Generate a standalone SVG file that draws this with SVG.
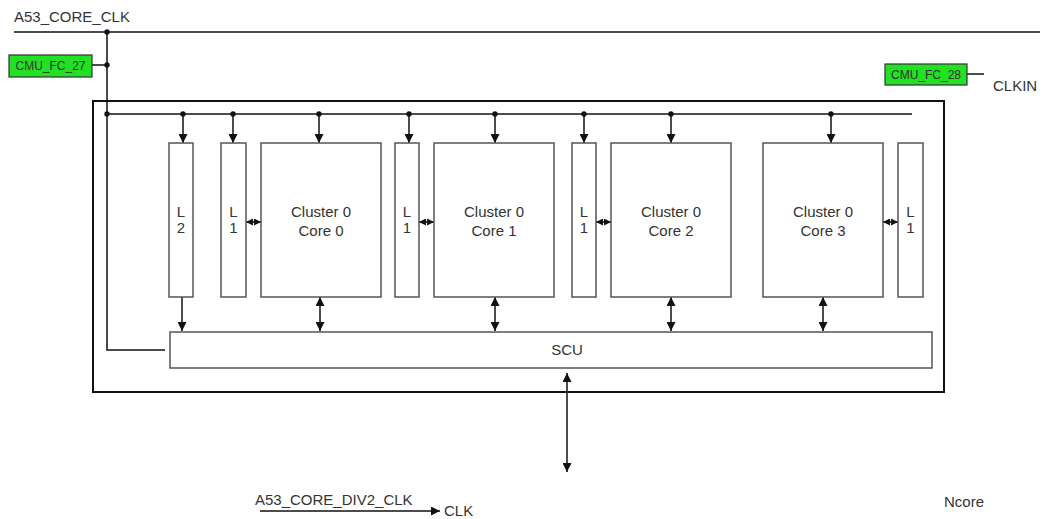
<svg xmlns="http://www.w3.org/2000/svg" width="1043" height="519" viewBox="0 0 1043 519">
<defs>
<style>
.t{font-family:"Liberation Sans",Arial,sans-serif;fill:#333;font-size:15px;}
.box{fill:#fff;stroke:#555;stroke-width:1.5;}
.ln{stroke:#111;stroke-width:1.5;fill:none;}
.g{fill:#22e022;stroke:#333;stroke-width:1.2;}
.dot{fill:#111;}
</style>
<marker id="ah" viewBox="0 0 10 10" refX="10" refY="5" markerWidth="9" markerHeight="9" markerUnits="userSpaceOnUse" orient="auto-start-reverse"><path d="M0,0 L10,5 L0,10 Z" fill="#111"/></marker>
<marker id="sa" viewBox="0 0 10 10" refX="10" refY="5" markerWidth="7" markerHeight="7" markerUnits="userSpaceOnUse" orient="auto-start-reverse"><path d="M0,0 L10,5 L0,10 Z" fill="#111"/></marker>
</defs>
<rect width="1043" height="519" fill="#fff"/>

<g id="outer"><rect x="93" y="101" width="851" height="291" fill="none" stroke="#111" stroke-width="2"/></g>

<g id="connectors">
<line class="ln" x1="14" y1="32" x2="1040" y2="32"/>
<polyline class="ln" points="107,32 107,350 165,350"/>
<line class="ln" x1="92" y1="65" x2="107" y2="65"/>
<line class="ln" x1="967" y1="74" x2="984" y2="74"/>
<line class="ln" x1="107" y1="114" x2="912" y2="114"/>
<circle class="dot" cx="107" cy="32" r="2.7"/>
<circle class="dot" cx="107" cy="65" r="2.7"/>
<circle class="dot" cx="107" cy="114" r="2.7"/>
<g marker-end="url(#ah)">
<line class="ln" x1="183" y1="114" x2="183" y2="143"/>
<line class="ln" x1="233" y1="114" x2="233" y2="143"/>
<line class="ln" x1="319" y1="114" x2="319" y2="143"/>
<line class="ln" x1="409" y1="114" x2="409" y2="143"/>
<line class="ln" x1="495" y1="114" x2="495" y2="143"/>
<line class="ln" x1="584" y1="114" x2="584" y2="143"/>
<line class="ln" x1="671" y1="114" x2="671" y2="143"/>
<line class="ln" x1="831" y1="114" x2="831" y2="143"/>
<line class="ln" x1="182" y1="297" x2="182" y2="331"/>
</g>
<circle class="dot" cx="183" cy="114" r="2.7"/>
<circle class="dot" cx="233" cy="114" r="2.7"/>
<circle class="dot" cx="319" cy="114" r="2.7"/>
<circle class="dot" cx="409" cy="114" r="2.7"/>
<circle class="dot" cx="495" cy="114" r="2.7"/>
<circle class="dot" cx="584" cy="114" r="2.7"/>
<circle class="dot" cx="671" cy="114" r="2.7"/>
<circle class="dot" cx="831" cy="114" r="2.7"/>
<g marker-start="url(#ah)" marker-end="url(#ah)">
<line class="ln" x1="320" y1="297" x2="320" y2="331"/>
<line class="ln" x1="495" y1="297" x2="495" y2="331"/>
<line class="ln" x1="671" y1="297" x2="671" y2="331"/>
<line class="ln" x1="823" y1="297" x2="823" y2="331"/>
<line class="ln" x1="567" y1="373" x2="567" y2="472"/>
</g>
<g marker-start="url(#sa)" marker-end="url(#sa)">
<line class="ln" x1="246" y1="222" x2="261" y2="222"/>
<line class="ln" x1="419" y1="222" x2="434" y2="222"/>
<line class="ln" x1="596" y1="222" x2="611" y2="222"/>
<line class="ln" x1="883" y1="222" x2="898" y2="222"/>
</g>
<line class="ln" x1="260" y1="511" x2="440" y2="511" marker-end="url(#ah)"/>
</g>

<g id="clk-label"><text class="t" x="14" y="22">A53_CORE_CLK</text></g>
<g id="cmu27"><rect class="g" x="9" y="55" width="83" height="22"/><text class="t" x="50.5" y="70" style="font-size:12px" text-anchor="middle" fill="#222">CMU_FC_27</text></g>
<g id="cmu28"><rect class="g" x="885" y="64" width="82" height="21"/><text class="t" x="926" y="78.5" style="font-size:12px" text-anchor="middle">CMU_FC_28</text></g>
<g id="clkin"><text class="t" x="993" y="91">CLKIN</text></g>

<g id="l2"><rect class="box" x="169" y="143" width="24" height="154"/><text class="t" x="181" y="217" text-anchor="middle">L</text><text class="t" x="181" y="233" text-anchor="middle">2</text></g>
<g id="l1a"><rect class="box" x="221" y="143" width="25" height="154"/><text class="t" x="233.5" y="217" text-anchor="middle">L</text><text class="t" x="233.5" y="233" text-anchor="middle">1</text></g>
<g id="core0"><rect class="box" x="261" y="143" width="120" height="154"/><text class="t" x="321" y="217" text-anchor="middle">Cluster 0</text><text class="t" x="321" y="236" text-anchor="middle">Core 0</text></g>
<g id="l1b"><rect class="box" x="395" y="143" width="24" height="154"/><text class="t" x="407" y="217" text-anchor="middle">L</text><text class="t" x="407" y="233" text-anchor="middle">1</text></g>
<g id="core1"><rect class="box" x="434" y="143" width="120" height="154"/><text class="t" x="494" y="217" text-anchor="middle">Cluster 0</text><text class="t" x="494" y="236" text-anchor="middle">Core 1</text></g>
<g id="l1c"><rect class="box" x="572" y="143" width="24" height="154"/><text class="t" x="584" y="217" text-anchor="middle">L</text><text class="t" x="584" y="233" text-anchor="middle">1</text></g>
<g id="core2"><rect class="box" x="611" y="143" width="120" height="154"/><text class="t" x="671" y="217" text-anchor="middle">Cluster 0</text><text class="t" x="671" y="236" text-anchor="middle">Core 2</text></g>
<g id="core3"><rect class="box" x="763" y="143" width="120" height="154"/><text class="t" x="823" y="217" text-anchor="middle">Cluster 0</text><text class="t" x="823" y="236" text-anchor="middle">Core 3</text></g>
<g id="l1d"><rect class="box" x="898" y="143" width="25" height="154"/><text class="t" x="910.5" y="217" text-anchor="middle">L</text><text class="t" x="910.5" y="233" text-anchor="middle">1</text></g>
<g id="scu"><rect class="box" x="170" y="332" width="762" height="36"/><text class="t" x="567" y="355" text-anchor="middle">SCU</text></g>

<g id="div2"><text class="t" x="255" y="505">A53_CORE_DIV2_CLK</text><text class="t" x="444" y="516">CLK</text></g>
<g id="ncore"><text class="t" x="944" y="507">Ncore</text></g>
</svg>
